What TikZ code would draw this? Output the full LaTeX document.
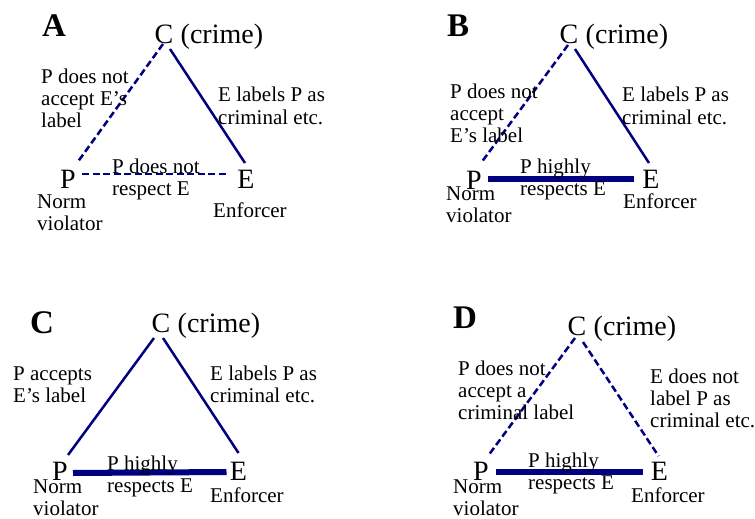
\documentclass[tikz,border=0pt]{standalone}
\usepackage{fontspec}
\setmainfont{Liberation Serif}
\begin{document}
\begin{tikzpicture}[x=1pt,y=-1pt,
  vertex/.style={inner sep=0pt,font=\fontsize{28}{30}\selectfont},
  crime/.style={inner sep=0pt,anchor=base west,xshift=7pt,font=\fontsize{28}{30}\selectfont},
  panel/.style={inner sep=0pt,anchor=base west,font=\fontsize{33}{35}\selectfont\bfseries},
  % multi-line notes are placed by the baseline of their last line
  note/.style={inner sep=0pt,anchor=base west,align=left,font=\fontsize{21}{22}\selectfont},
  tie/.style={draw=navy,line width=2.5pt},
  weaktie/.style={tie,dash pattern=on 7pt off 3.5pt},
  strongtie/.style={draw=navy,line width=6pt}]
\definecolor{navy}{RGB}{0,0,128}
\useasboundingbox (0,0) rectangle (755,519);

% ---------- A ----------
\node[panel] (labA) at (42,37) {A};
\node[vertex] (cA) at (164,34) {C};
\node[crime] (crA) at (cA.base east) {(crime)};
\node[vertex] (pA) at (68,179) {P};
\node[vertex] (eA) at (246,179) {E};
\draw[weaktie] ([shift={(-1,10)}]cA.center) -- ([shift={(9,-16)}]pA.center);
\draw[tie] ([shift={(6,15)}]cA.center) -- ([shift={(-1,-16)}]eA.center);
\draw[weaktie] ([shift={(14,-5)}]pA.center) -- ([shift={(-19,-5)}]eA.center);
\node[note] (cpA) at (41,127) {P does not\\accept E’s\\label};
\node[note] (ceA) at (218,124) {E labels P as\\criminal etc.};
\node[note] (peA) at (112,195) {P does not\\respect E};
\node[note] (nvA) at (37,230) {Norm\\violator};
\node[note] (enA) at (213,217) {Enforcer};

% ---------- B ----------
\node[panel] (labB) at (447,37) {B};
\node[vertex] (cB) at (569,34) {C};
\node[crime] (crB) at (cB.base east) {(crime)};
\node[vertex] (pB) at (474,180) {P};
\node[vertex] (eB) at (651,179) {E};
\draw[weaktie] ([shift={(-1,11)}]cB.center) -- ([shift={(7,-17)}]pB.center);
\draw[tie] ([shift={(6,15)}]cB.center) -- ([shift={(-2,-16)}]eB.center);
\draw[strongtie] ([shift={(14,-1)}]pB.center) -- ([shift={(-17,0)}]eB.center);
\node[note] (cpB) at (450,142) {P does not\\accept\\E’s label};
\node[note] (ceB) at (622,124) {E labels P as\\criminal etc.};
\node[note] (peB) at (520,195) {P highly\\respects E};
\node[note] (nvB) at (446,222) {Norm\\violator};
\node[note] (enB) at (623,208) {Enforcer};

% ---------- C ----------
\node[panel] (labC) at (30,333) {C};
\node[vertex] (cC) at (161,323) {C};
\node[crime] (crC) at (cC.base east) {(crime)};
\node[vertex] (pC) at (60,471) {P};
\node[vertex] (eC) at (238.5,471) {E};
\draw[tie] ([shift={(-7,15)}]cC.center) -- ([shift={(8,-16)}]pC.center);
\draw[tie] ([shift={(2,15)}]cC.center) -- ([shift={(0,-18)}]eC.center);
\draw[strongtie] ([shift={(13,2)}]pC.center) -- ([shift={(-12,1)}]eC.center);
\node[note] (cpC) at (13,402) {P accepts\\E’s label};
\node[note] (ceC) at (210,402) {E labels P as\\criminal etc.};
\node[note] (peC) at (107,492) {P highly\\respects E};
\node[note] (nvC) at (33,515) {Norm\\violator};
\node[note] (enC) at (210,502) {Enforcer};

% ---------- D ----------
\node[panel] (labD) at (453,328) {D};
\node[vertex] (cD) at (577,326) {C};
\node[crime] (crD) at (cD.base east) {(crime)};
\node[vertex] (pD) at (481,471) {P};
\node[vertex] (eD) at (659.5,471) {E};
\draw[weaktie] ([shift={(-2,12)}]cD.center) -- ([shift={(7,-15)}]pD.center);
\draw[weaktie] ([shift={(6,16)}]cD.center) -- ([shift={(-1,-15)}]eD.center);
\draw[strongtie] ([shift={(15,1)}]pD.center) -- ([shift={(-17,1)}]eD.center);
\node[note] (cpD) at (458,419) {P does not\\accept a\\criminal label};
\node[note] (ceD) at (650,427) {E does not\\label P as\\criminal etc.};
\node[note] (peD) at (528,489) {P highly\\respects E};
\node[note] (nvD) at (453,515) {Norm\\violator};
\node[note] (enD) at (631,502) {Enforcer};
\end{tikzpicture}
\end{document}
